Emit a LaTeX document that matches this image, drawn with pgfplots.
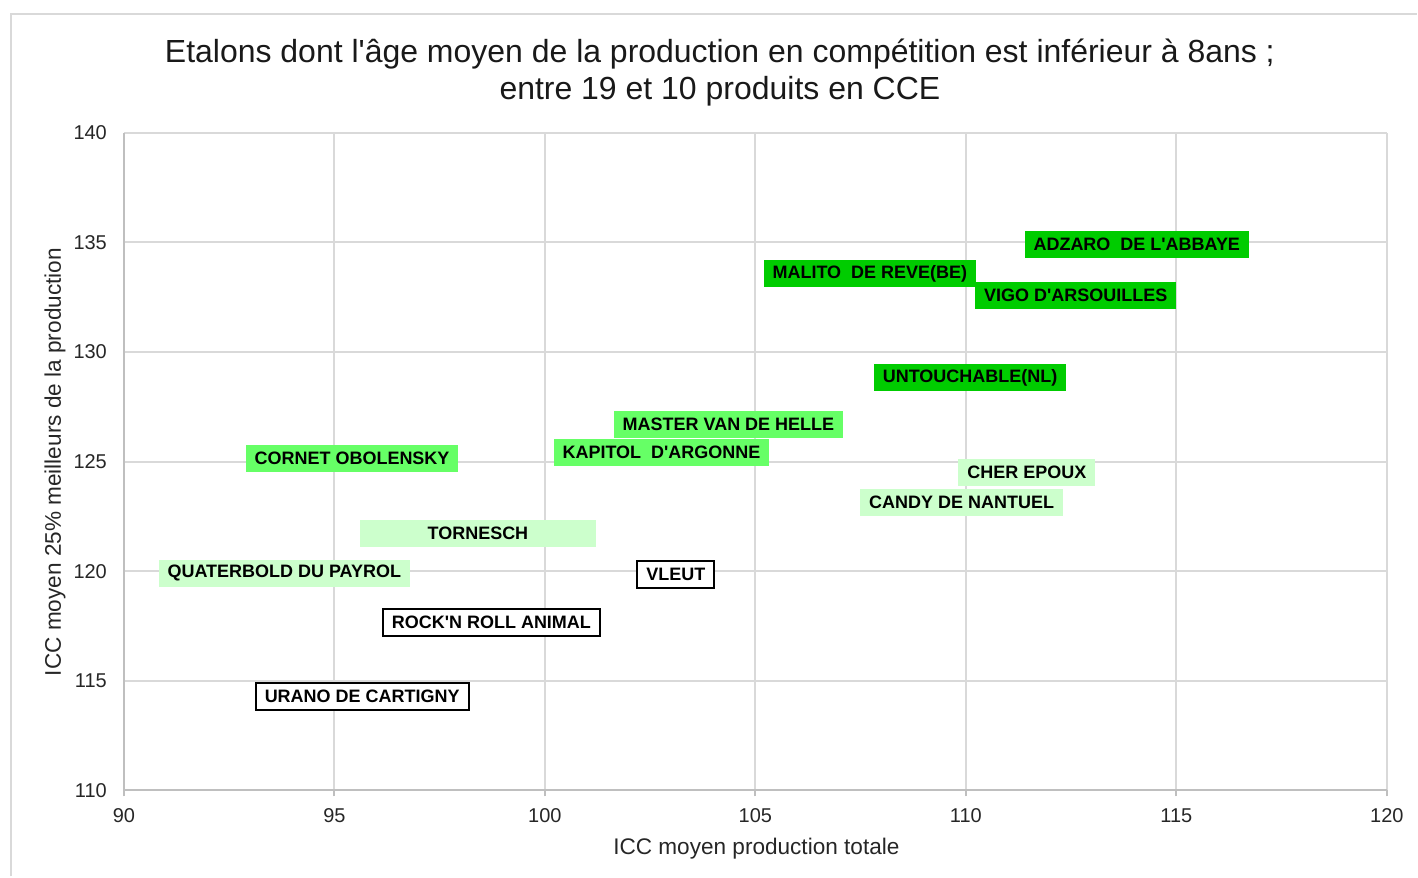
\documentclass[border=0pt]{standalone}
\usepackage{fontspec}
\setmainfont{Liberation Sans}
\usepackage{pgfplots}
\pgfplotsset{compat=1.18}
\usepackage{pgfplotstable}
\definecolor{dkg}{HTML}{00CC00}
\definecolor{mdg}{HTML}{66FF66}
\definecolor{ltg}{HTML}{CCFFCC}
\definecolor{gridc}{HTML}{D9D9D9}
\definecolor{axc}{HTML}{BFBFBF}
\newcommand{\q}{\textquotesingle}
\pgfplotstableread[col sep=semicolon]{
x;y;label
114.06;134.92;ADZARO~ DE L\q ABBAYE
107.72;133.59;MALITO~ DE REVE(BE)
112.61;132.59;VIGO D\q ARSOUILLES
110.10;128.83;UNTOUCHABLE(NL)
}\tdark
\pgfplotstableread[col sep=semicolon]{
x;y;label
104.36;126.71;MASTER VAN DE HELLE
102.77;125.43;KAPITOL~ D\q ARGONNE
95.42;125.13;CORNET OBOLENSKY
}\tmed
\pgfplotstableread[col sep=semicolon]{
x;y;label
111.45;124.50;CHER EPOUX
109.90;123.13;CANDY DE NANTUEL
93.81;119.91;QUATERBOLD DU PAYROL
}\tlight
\pgfplotstableread[col sep=semicolon]{
x;y;label
98.41;121.74;TORNESCH
}\ttorn
\pgfplotstableread[col sep=semicolon]{
x;y;label
103.11;119.87;VLEUT
98.73;117.68;ROCK\q N ROLL ANIMAL
95.66;114.28;URANO DE CARTIGNY
}\twhite
\begin{document}
\begin{tikzpicture}
\path (0pt,0pt) rectangle (709pt,438.5pt);
\draw[gridc, line width=1.2pt] (5.5pt,0pt) -- (5.5pt,431.5pt) -- (709pt,431.5pt);
\node[align=center, font=\fontsize{16}{18.5}\selectfont, text=black!90] at (360.25pt,402.25pt)
 {Etalons dont l\q âge moyen de la production en compétition est inférieur à 8ans ;\\entre 19 et 10 produits en CCE};
\node[font=\fontsize{11.3}{13}\selectfont, text=black!85] at (378.5pt,14pt) {ICC moyen production totale};
\node[font=\fontsize{11.3}{13}\selectfont, text=black!85, rotate=90] at (27.5pt,207.25pt) {ICC moyen 25\% meilleurs de la production};
\begin{axis}[
  at={(62pt,43pt)}, anchor=south west,
  width=632pt, height=329pt, scale only axis,
  xmin=90, xmax=120, ymin=110, ymax=140,
  xtick={90,95,...,120}, ytick={110,115,...,140},
  grid=major,
  major grid style={draw=gridc, line width=1pt},
  axis line style={draw=axc, line width=1pt},
  axis lines=left, axis line style={-},
  x axis line style={-}, y axis line style={-},
  xtick style={draw=axc, line width=1pt},
  ytick style={draw=none},
  tick align=outside, major tick length=3pt,
  ticklabel style={font=\fontsize{10}{12}\selectfont, text=black!85},
  xticklabel style={yshift=-2.5pt},
  yticklabel style={xshift=-2pt},
  /pgf/number format/assume math mode=true,
  point meta=explicit symbolic,
  nodes near coords, nodes near coords align=center,
  clip=false,
  every node near coord/.append style={anchor=center, font=\fontsize{9}{11}\selectfont\bfseries, text=black, inner xsep=4.5pt, inner ysep=0pt, minimum height=13.5pt},
]
\addplot[only marks, mark=*, mark size=1.5pt, color=dkg, every node near coord/.append style={fill=dkg}] table[x=x, y=y, meta=label] {\tdark};
\addplot[only marks, mark=*, mark size=1.5pt, color=mdg, every node near coord/.append style={fill=mdg}] table[x=x, y=y, meta=label] {\tmed};
\addplot[only marks, mark=*, mark size=1.5pt, color=ltg, every node near coord/.append style={fill=ltg}] table[x=x, y=y, meta=label] {\tlight};
\addplot[only marks, mark=*, mark size=1.5pt, color=ltg, every node near coord/.append style={fill=ltg, minimum width=118.5pt}] table[x=x, y=y, meta=label] {\ttorn};
\addplot[only marks, mark=*, mark size=1.5pt, color=white, every node near coord/.append style={fill=white, draw=black, line width=1pt}] table[x=x, y=y, meta=label] {\twhite};
\end{axis}
\end{tikzpicture}
\end{document}
